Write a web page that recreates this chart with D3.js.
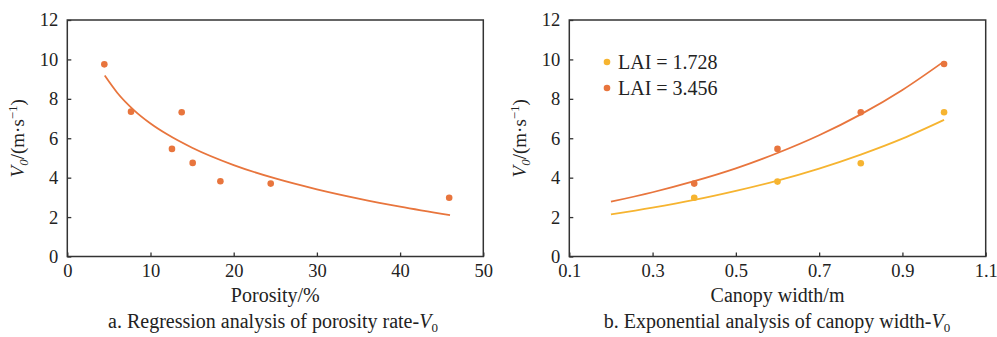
<!DOCTYPE html>
<html><head><meta charset="utf-8">
<script src="https://cdn.jsdelivr.net/npm/d3@7/dist/d3.min.js"></script>
</head>
<body style="margin:0;background:#fff"><svg id="c" width="997" height="337"></svg>
<script>
// Panel a data
const porosity = [4.45, 7.66, 13.75, 12.58, 15.07, 18.4, 24.45, 45.9];
const v0a = [9.75, 7.35, 7.32, 5.46, 4.75, 3.82, 3.70, 2.98];
const fitAx = [4.5, 6, 8, 10, 12, 15, 20, 25, 30, 35, 40, 46];
const fitAy = [9.18, 8.31, 7.43, 6.75, 6.20, 5.52, 4.64, 3.96, 3.41, 2.94, 2.53, 2.10];
// Panel b data
const canopy = [0.4, 0.6, 0.8, 1.0];
const lai1728 = [2.98, 3.80, 4.73, 7.32];
const lai3456 = [3.70, 5.46, 7.32, 9.77];
const fitBx = [0.2, 0.3, 0.4, 0.5, 0.6, 0.7, 0.8, 0.9, 1.0];
const fit1728 = [2.14, 2.48, 2.87, 3.33, 3.85, 4.46, 5.17, 5.98, 6.93];
const fit3456 = [2.78, 3.26, 3.82, 4.47, 5.25, 6.15, 7.21, 8.45, 9.90];
const yTicks = [0, 2, 4, 6, 8, 10, 12];
const xTicksA = [0, 10, 20, 30, 40, 50];
const xTicksB = [0.1, 0.3, 0.5, 0.7, 0.9, 1.1];
const legendLabels = ["LAI = 1.728", "LAI = 3.456"];

const ORANGE = "#E8753D", YELLOW = "#F6B430", AXIS = "#333";
const svg = d3.select("#c");

function panel(opts){
  const {left, right, top, bottom, xDomain, xTicks, fmt, xTitle, captionPrefix, captionX} = opts;
  const x = d3.scaleLinear().domain(xDomain).range([left, right]);
  const y = d3.scaleLinear().domain([0, 12]).range([bottom, top]);
  const g = svg.append("g");
  g.append("rect").attr("x", left).attr("y", top).attr("width", right-left).attr("height", bottom-top)
    .attr("fill", "none").attr("stroke", AXIS).attr("stroke-width", 1.5);
  const ya = g.append("g").attr("transform", `translate(${left},0)`)
    .call(d3.axisLeft(y).tickValues(yTicks).tickSizeInner(-4).tickSizeOuter(0).tickPadding(9));
  const xa = g.append("g").attr("transform", `translate(0,${bottom})`)
    .call(d3.axisBottom(x).tickValues(xTicks).tickFormat(fmt).tickSizeInner(-4).tickSizeOuter(0).tickPadding(7));
  [ya, xa].forEach(a => {
    a.select(".domain").remove();
    a.selectAll(".tick line").attr("stroke", AXIS).attr("stroke-width", 1.3);
    a.selectAll(".tick text").attr("font-size", 18.5);
  });
  const yt = g.append("text").attr("transform", `translate(${left-43},${(top+bottom)/2}) rotate(-90)`)
    .attr("text-anchor", "middle").attr("font-size", 19);
  yt.append("tspan").attr("font-style", "italic").text("V");
  yt.append("tspan").attr("font-size", 13).attr("font-style", "italic").attr("dy", 4).text("0");
  yt.append("tspan").attr("dy", -4).text("/(m·s");
  yt.append("tspan").attr("font-size", 13).attr("dy", -7).text("−1");
  yt.append("tspan").attr("dy", 7).text(")");
  g.append("text").attr("x", (left+right)/2).attr("y", 302).attr("text-anchor", "middle")
    .attr("font-size", 20).text(xTitle);
  const cap = g.append("text").attr("x", captionX).attr("y", 328).attr("text-anchor", "middle").attr("font-size", 20);
  cap.append("tspan").text(captionPrefix);
  cap.append("tspan").attr("font-style", "italic").text("V");
  cap.append("tspan").attr("font-size", 13).attr("dy", 4).text("0");
  return {g, x, y};
}

const A = panel({left: 67.3, right: 483.3, top: 20, bottom: 256.5, xDomain: [0, 50], xTicks: xTicksA,
  fmt: d3.format("d"), xTitle: "Porosity/%", captionPrefix: "a. Regression analysis of porosity rate-", captionX: 273});
const lineA = d3.line().x(d => A.x(d[0])).y(d => A.y(d[1])).curve(d3.curveMonotoneX);
A.g.append("path").attr("d", lineA(d3.zip(fitAx, fitAy))).attr("fill", "none")
  .attr("stroke", ORANGE).attr("stroke-width", 1.8);
A.g.selectAll("circle.pa").data(d3.zip(porosity, v0a)).join("circle")
  .attr("cx", d => A.x(d[0])).attr("cy", d => A.y(d[1])).attr("r", 3.3).attr("fill", ORANGE);

const B = panel({left: 569.3, right: 985.7, top: 20, bottom: 256.5, xDomain: [0.1, 1.1], xTicks: xTicksB,
  fmt: d3.format(".1f"), xTitle: "Canopy width/m", captionPrefix: "b. Exponential analysis of canopy width-", captionX: 777});
const lineB = d3.line().x(d => B.x(d[0])).y(d => B.y(d[1])).curve(d3.curveMonotoneX);
[[fit1728, YELLOW], [fit3456, ORANGE]].forEach(([vals, col]) => {
  B.g.append("path").attr("d", lineB(d3.zip(fitBx, vals))).attr("fill", "none")
    .attr("stroke", col).attr("stroke-width", 1.8);
});
[[lai1728, YELLOW], [lai3456, ORANGE]].forEach(([vals, col]) => {
  B.g.selectAll(null).data(d3.zip(canopy, vals)).join("circle")
    .attr("cx", d => B.x(d[0])).attr("cy", d => B.y(d[1])).attr("r", 3.3).attr("fill", col);
});
[YELLOW, ORANGE].forEach((col, i) => {
  const yy = 62 + i*26;
  B.g.append("circle").attr("cx", 607).attr("cy", yy).attr("r", 3.3).attr("fill", col);
  B.g.append("text").attr("x", 618).attr("y", yy + 7).attr("font-size", 20).text(legendLabels[i]);
});
svg.selectAll("g").attr("font-family", null);
svg.selectAll("text").style("font-family", '"Liberation Serif"').style("fill", "#222");
</script></body></html>
